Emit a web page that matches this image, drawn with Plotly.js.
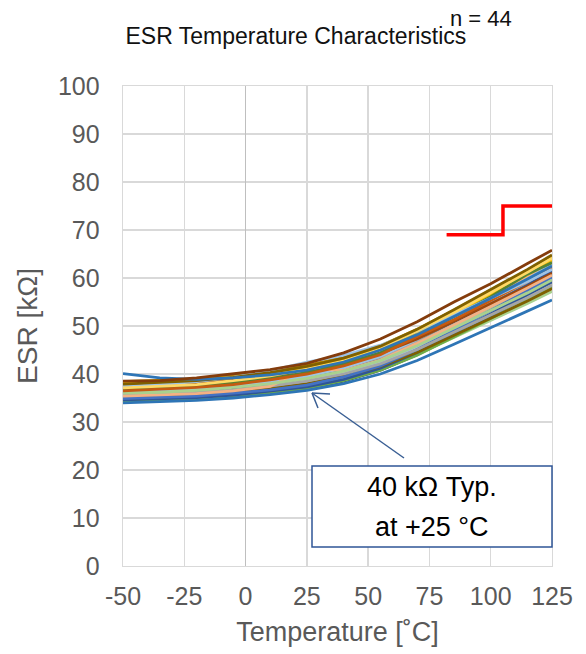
<!DOCTYPE html>
<html>
<head>
<meta charset="utf-8">
<script src="https://cdn.plot.ly/plotly-3.0.1.min.js"></script>
<style>html,body{margin:0;padding:0;background:#fff;}#chart{width:586px;height:654px;}</style>
</head>
<body>
<div id="chart"></div>
<script>
// Temperature points (°C)
const temps = [-50, -35, -20, -5, 10, 25, 40, 55, 70, 85, 100, 115, 125];

// ESR [kΩ] per sample (n = 44)
const s01 = [34.0,34.2,34.5,35.0,35.7,36.6,38.0,40.0,42.8,46.2,49.6,53.0,55.4];
const s02 = [38.5,38.6,39.2,40.0,40.9,42.2,44.4,47.3,50.9,55.0,58.8,63.0,65.8];
const s03 = [40.1,39.2,38.9,39.2,39.8,40.8,42.5,45.0,48.2,52.0,55.8,59.8,62.5];
const s04 = [37.9,38.2,38.6,39.3,40.3,41.6,43.3,45.8,49.3,53.4,57.6,61.8,64.8];
const s05 = [37.1,37.4,37.8,38.6,39.6,41.0,42.7,45.2,49.0,52.8,57.0,61.2,64.2];
const s06 = [37.4,37.8,38.4,39.3,40.7,42.5,43.9,46.0,48.9,52.3,55.8,59.3,61.8];
const s07 = [36.5,36.8,37.2,37.8,38.8,40.0,41.7,44.0,47.8,51.3,55.3,59.3,62.2];
const s08 = [36.0,36.2,36.6,37.2,38.0,39.1,40.6,42.8,45.9,49.6,53.2,56.9,59.6];
const s09 = [36.9,37.2,37.5,38.2,39.1,40.3,42.0,44.4,47.9,52.0,56.1,60.8,63.2];
const s10 = [35.4,35.6,35.9,36.5,37.4,41.2,40.7,42.9,46.4,50.2,54.0,57.9,60.6];
const s11 = [35.6,35.8,36.2,36.7,37.5,38.5,40.0,42.1,45.1,48.7,52.3,55.9,58.5];
const s12 = [34.9,35.1,35.4,36.0,36.7,37.7,39.4,41.7,45.1,49.1,53.2,57.2,60.1];
const s13 = [37.5,37.7,38.1,38.7,39.5,40.6,42.1,44.3,47.3,51.0,54.7,58.3,61.0];
const s14 = [36.2,36.5,36.8,37.5,38.3,39.5,41.2,43.7,47.2,51.4,55.6,59.8,62.8];
const s15 = [35.0,35.2,35.6,36.1,37.0,38.0,39.5,41.6,44.5,48.1,51.7,55.2,57.8];
const s16 = [38.2,38.4,38.8,39.3,40.2,41.2,42.9,45.2,48.6,52.6,56.7,60.7,63.6];
const s17 = [34.6,34.8,35.1,35.6,36.4,37.3,38.9,41.2,44.5,48.5,52.4,56.4,59.2];
const s18 = [36.8,37.0,37.4,37.9,38.8,39.8,41.3,43.5,46.6,50.3,54.0,57.7,60.4];
const s19 = [35.8,36.1,36.4,37.1,38.0,39.2,40.9,43.2,46.5,50.5,54.5,58.5,61.4];
const s20 = [37.2,37.5,37.8,38.4,39.3,40.4,42.0,44.3,47.5,51.4,55.3,59.2,62.0];
const s21 = [34.4,34.6,34.9,35.4,36.1,37.0,38.6,40.8,43.9,47.7,51.5,55.3,58.0];
const s22 = [36.4,36.7,37.0,37.6,38.5,39.6,41.2,43.5,46.7,50.6,54.5,58.4,61.2];
const s23 = [35.2,35.5,35.8,36.4,37.3,38.4,40.0,42.3,45.5,49.3,53.2,57.0,59.8];
const s24 = [37.8,38.1,38.4,39.0,39.9,41.0,42.7,45.0,48.3,52.2,56.2,60.1,63.0];
const s25 = [36.6,36.9,37.2,37.9,38.7,39.9,41.4,43.5,46.5,50.2,53.8,57.4,60.0];
const s26 = [35.5,35.8,36.1,36.7,37.6,38.7,40.2,42.3,45.3,49.0,52.6,56.2,58.8];
const s27 = [38.0,38.3,38.6,39.3,40.2,41.4,43.1,45.5,48.9,52.9,57.0,61.1,64.0];
const s28 = [34.8,35.0,35.3,35.9,36.6,37.6,39.1,41.1,44.1,47.6,51.1,54.7,57.2];
const s29 = [36.1,36.4,36.7,37.3,38.2,39.3,41.0,43.4,46.7,50.8,54.8,58.9,61.8];
const s30 = [37.0,37.3,37.6,38.2,39.1,40.2,41.9,44.2,47.6,51.6,55.7,59.7,62.6];
const s31 = [35.3,35.5,35.9,36.4,37.3,38.3,39.9,42.1,45.3,49.1,52.9,56.7,59.4];
const s32 = [36.7,37.0,37.3,38.0,38.8,40.0,41.6,43.7,46.9,50.6,54.4,58.1,60.8];
const s33 = [34.2,34.4,34.7,35.2,36.0,36.9,38.5,40.8,44.0,47.9,51.7,55.6,58.4];
const s34 = [37.6,37.9,38.2,38.8,39.7,40.8,42.5,44.9,48.3,52.3,56.4,60.5,63.4];
const s35 = [35.9,36.1,36.5,37.1,37.9,39.0,40.6,42.8,46.0,49.8,53.6,57.4,60.2];
const s36 = [36.3,36.5,36.9,37.5,38.3,39.4,41.1,43.4,46.7,50.7,54.7,58.7,61.6];
const s37 = [38.4,38.7,39.0,39.7,40.6,41.8,43.5,45.9,49.3,53.3,57.4,61.5,64.4];
const s38 = [35.1,35.3,35.7,36.3,37.1,38.2,39.8,41.9,45.1,48.8,52.6,56.3,59.0];
const s39 = [37.3,37.6,37.9,38.5,39.4,40.5,42.1,44.4,47.7,51.6,55.5,59.5,62.3];
const s40 = [36.0,36.3,36.6,37.2,38.1,39.2,40.8,43.1,46.4,50.3,54.2,58.1,60.9];
const s41 = [34.7,34.9,35.2,35.8,36.5,37.5,39.1,41.3,44.5,48.3,52.1,55.9,58.6];
const s42 = [37.7,37.9,38.3,38.8,39.7,40.7,42.3,44.4,47.6,51.3,55.1,58.8,61.5];
const s43 = [35.7,36.0,36.3,36.9,37.8,38.9,40.5,42.7,45.8,49.6,53.4,57.2,59.9];
const s44 = [36.5,36.8,37.1,37.7,38.6,39.7,41.4,43.9,47.4,51.5,55.7,59.9,62.9];

const samples = [s01,s02,s03,s04,s05,s06,s07,s08,s09,s10,s11,s12,s13,s14,s15,s16,s17,s18,s19,s20,s21,s22,
                 s23,s24,s25,s26,s27,s28,s29,s30,s31,s32,s33,s34,s35,s36,s37,s38,s39,s40,s41,s42,s43,s44];

// Specification limit line
const limitT = [82, 105, 125];
const limitESR = [69, 75, 75];

// Tick labels
const xTicks = [-50, -25, 0, 25, 50, 75, 100, 125];
const yTicks = [0, 10, 20, 30, 40, 50, 60, 70, 80, 90, 100];

// Line colour per sample (style)
const sampleColors = [
  '#2E75B6','#843C0C','#2E75B6','#7F6000','#FFD966','#9DC3E6','#C55A11','#A9D18E','#548235','#F4B183','#A5A5A5',
  '#4472C4','#9E480E','#9DC3E6','#7F6000','#FFC000','#2F5597','#A5A5A5','#2F5597','#F4B183','#70AD47','#70AD47',
  '#9DC3E6','#F4B183','#A9D18E','#BFBFBF','#FFE699','#A9D18E','#5B9BD5','#4472C4','#548235','#8FAADC','#203864',
  '#FFD966','#BFBFBF','#F4B183','#BF9000','#A5A5A5','#ED7D31','#BDD7EE','#8FAADC','#A9D18E','#7F7F7F','#C55A11'
];

const traces = [];
for (let i = samples.length - 1; i >= 0; i--) {
  traces.push({
    x: temps, y: samples[i], type: 'scatter', mode: 'lines',
    line: {color: sampleColors[i], width: 2.8},
    hoverinfo: 'skip', showlegend: false
  });
}
traces.push({
  x: limitT, y: limitESR, type: 'scatter', mode: 'lines',
  line: {color: '#FF0000', width: 3.5, shape: 'hv'},
  hoverinfo: 'skip', showlegend: false
});

const FONT = 'Liberation Sans, Arial, Helvetica, sans-serif';
const L = 123, R = 552, T = 86, B = 566;
const px = v => (v - L) / (R - L);
const py = v => (B - v) / (B - T);
const arrowColor = '#3A5F94';

const layout = {
  width: 586, height: 654,
  margin: {l: L, r: 586 - R, t: T, b: 654 - B},
  paper_bgcolor: '#ffffff', plot_bgcolor: '#ffffff',
  font: {family: FONT, color: '#595959'},
  showlegend: false,
  hovermode: false,
  title: {text: 'ESR Temperature Characteristics', font: {size: 23, color: '#111111', family: FONT},
          xref: 'container', x: 0.505, xanchor: 'center', yref: 'container', y: 1 - 36/654, yanchor: 'middle'},
  xaxis: {
    range: [-50, 125], tickvals: xTicks, ticktext: xTicks.map(String),
    showgrid: true, gridcolor: '#D9D9D9', gridwidth: 1.4,
    zeroline: true, zerolinecolor: '#BFBFBF', zerolinewidth: 1.6,
    showline: true, linecolor: '#D9D9D9', linewidth: 1.4, mirror: true,
    ticks: '', ticklabelstandoff: 8,
    tickfont: {size: 25, color: '#595959', family: FONT},
    title: {text: 'Temperature [˚C]', font: {size: 27, color: '#595959', family: FONT}, standoff: 12}
  },
  yaxis: {
    range: [0, 100], tickvals: yTicks, ticktext: yTicks.map(String),
    showgrid: true, gridcolor: '#D9D9D9', gridwidth: 1.4,
    zeroline: false,
    showline: true, linecolor: '#D9D9D9', linewidth: 1.4, mirror: true,
    ticks: '', ticklabelstandoff: 17,
    tickfont: {size: 25, color: '#595959', family: FONT},
    title: {text: 'ESR [kΩ]', font: {size: 28, color: '#595959', family: FONT}, standoff: 12}
  },
  shapes: [
    {type: 'rect', xref: 'paper', yref: 'paper', x0: px(312), x1: px(552), y0: py(547), y1: py(466),
     line: {color: '#2F5597', width: 1.5}, fillcolor: '#ffffff', layer: 'above'},
    {type: 'line', xref: 'paper', yref: 'paper', x0: px(312), y0: py(393), x1: px(404), y1: py(458),
     line: {color: arrowColor, width: 1.5}, layer: 'above'},
    {type: 'line', xref: 'paper', yref: 'paper', x0: px(312), y0: py(393), x1: px(330), y1: py(394),
     line: {color: arrowColor, width: 1.5}, layer: 'above'},
    {type: 'line', xref: 'paper', yref: 'paper', x0: px(312), y0: py(393), x1: px(318), y1: py(408),
     line: {color: arrowColor, width: 1.5}, layer: 'above'}
  ],
  annotations: [
    {text: 'n = 44', xref: 'paper', yref: 'paper', x: px(514), y: py(19), xanchor: 'right', yanchor: 'middle',
     showarrow: false, font: {size: 22, color: '#111111', family: FONT}},
    {text: '40 kΩ Typ.', xref: 'paper', yref: 'paper', x: px(432), y: py(487), xanchor: 'center', yanchor: 'middle',
     showarrow: false, font: {size: 27, color: '#000000', family: FONT}},
    {text: 'at +25 °C', xref: 'paper', yref: 'paper', x: px(432), y: py(527), xanchor: 'center', yanchor: 'middle',
     showarrow: false, font: {size: 27, color: '#000000', family: FONT}}
  ]
};

Plotly.newPlot('chart', traces, layout, {staticPlot: true, displayModeBar: false});
</script>
</body>
</html>
